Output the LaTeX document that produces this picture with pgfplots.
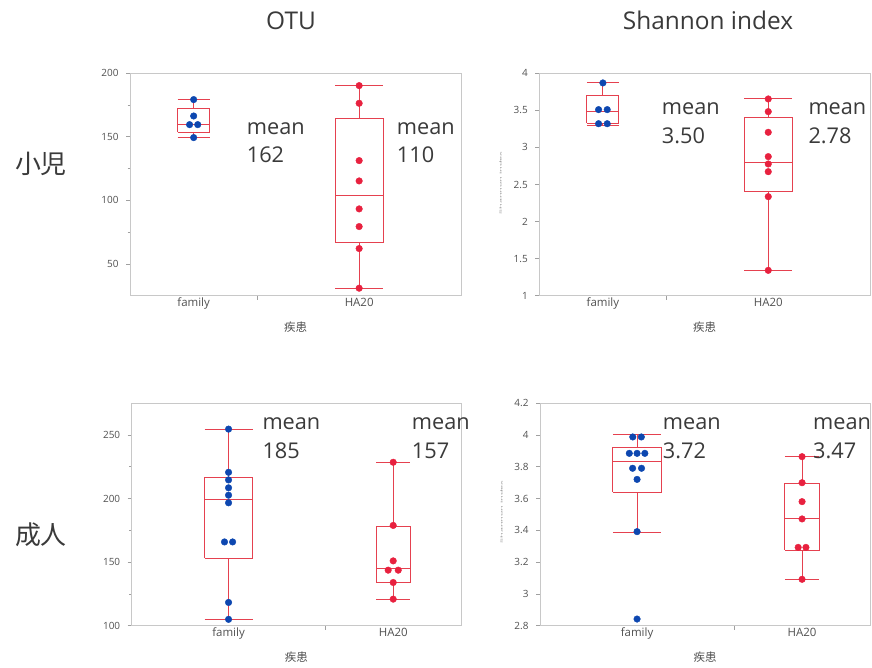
\documentclass[border=0pt]{standalone}
\usepackage{fontspec}
\setmainfont{Open Sans}
\newfontfamily\cjk{Noto Sans CJK JP}
\usepackage{pgfplots}
\pgfplotsset{compat=1.18}
\definecolor{boxred}{HTML}{E5414F}
\definecolor{ptred}{HTML}{E8213F}
\definecolor{ptblue}{HTML}{0D47B0}
\definecolor{framegray}{HTML}{C8C8C8}
\definecolor{tickgray}{HTML}{A0A0A0}
\definecolor{labelgray}{HTML}{505050}
\definecolor{textgray}{HTML}{3A3A3A}
\pgfplotsset{jmp/.style={
  scale only axis, anchor=south west, height=222.4bp,
  axis line style={draw=framegray, line width=1bp},
  tick align=outside, major tick length=4bp, minor tick length=2.5bp,
  every tick/.style={draw=tickgray, line width=0.7bp},
  ytick pos=left, xtick pos=bottom,
  tick label style={text=labelgray},
  yticklabel style={font=\fontsize{10}{11}\selectfont, xshift=-4bp},
  xticklabel style={font=\fontsize{11.5}{12}\selectfont, yshift=1.5bp},
  /pgf/number format/assume math mode=true,
  xticklabels={\mbox{}},
  extra x tick labels={family,HA20},
  extra x tick style={major tick length=0pt},
  xlabel={\cjk 疾患},
  x label style={at={(axis description cs:0.5,0)}, anchor=center, yshift=-31bp, font=\fontsize{11.5}{12}\selectfont, text=labelgray},
  clip=false,
},
bx/.style={draw=boxred, line width=1bp, solid, mark=none, line join=miter},
bpts/.style={only marks, mark=*, mark size=3.3bp, color=ptblue, mark options={draw=ptblue, fill=ptblue}},
rpts/.style={only marks, mark=*, mark size=3.3bp, color=ptred, mark options={draw=ptred, fill=ptred}},
}
% #1 position, #2 half width, #3 lower whisker, #4 Q1, #5 median, #6 Q3, #7 upper whisker
\newcommand\jbox[7]{%
\addplot[bx] coordinates {(#1-#2,#4) (#1+#2,#4) (#1+#2,#6) (#1-#2,#6) (#1-#2,#4)};
\addplot[bx] coordinates {(#1-#2,#5) (#1+#2,#5)};
\addplot[bx] coordinates {(#1,#6) (#1,#7)};
\addplot[bx] coordinates {(#1,#4) (#1,#3)};
\addplot[bx] coordinates {(#1-#2,#7) (#1+#2,#7)};
\addplot[bx] coordinates {(#1-#2,#3) (#1+#2,#3)};
}
\begin{document}
\begin{tikzpicture}
\path[use as bounding box, clip] (0,0) rectangle (872bp,668bp);
% ---------- Panel 1: OTU, children ----------
\begin{axis}[jmp, at={(130bp,372.3bp)}, width=331bp, xmin=0, xmax=13, ymin=25, ymax=200,
  ytick={50,100,150,200}, minor y tick num=1, xtick={5}, extra x ticks={2.5,9}]
\jbox{2.5}{0.63}{149.4}{153.6}{160.1}{172.2}{179.3}
\jbox{9}{0.945}{30.9}{66.8}{103.8}{164.6}{190.3}
\addplot[bpts] coordinates {(2.5,179.3) (2.5,166.4) (2.34,159.6) (2.66,159.6) (2.5,149.4)};
\addplot[rpts] coordinates {(9,190.3) (9,176.4) (9,131.3) (9,115.3) (9,93.3) (9,79.4) (9,62.1) (9,30.9)};
\end{axis}
% ---------- Panel 2: Shannon, children ----------
\begin{axis}[jmp, at={(539.3bp,372.3bp)}, width=330.7bp, xmin=0, xmax=13, ymin=1, ymax=4,
  ytick={1,1.5,2,2.5,3,3.5,4}, xtick={5}, extra x ticks={2.5,9}]
\jbox{2.5}{0.63}{3.29}{3.325}{3.483}{3.703}{3.87}
\jbox{9}{0.945}{1.342}{2.412}{2.79}{3.406}{3.654}
\addplot[bpts] coordinates {(2.5,3.87) (2.33,3.51) (2.67,3.51) (2.33,3.32) (2.67,3.32)};
\addplot[rpts] coordinates {(9,3.654) (9,3.483) (9,3.204) (9,2.876) (9,2.777) (9,2.673) (9,2.336) (9,1.342)};
\end{axis}
% ---------- Panel 3: OTU, adults ----------
\begin{axis}[jmp, at={(131.7bp,42.3bp)}, width=329.3bp, xmin=0, xmax=17, ymin=100, ymax=275,
  ytick={100,150,200,250}, minor y tick num=1, xtick={10}, extra x ticks={5,13.5}]
\jbox{5}{1.24}{105}{153.1}{199}{216.3}{254.7}
\jbox{13.5}{0.88}{120.9}{134.2}{145}{178.4}{228.6}
\addplot[bpts] coordinates {(5,254.7) (5,220.7) (5,214.7) (5,208.5) (5,202.7) (5,196.7) (4.79,165.9) (5.21,165.9) (5,118.3) (5,105)};
\addplot[rpts] coordinates {(13.5,228.6) (13.5,178.9) (13.5,151) (13.24,143.7) (13.76,143.7) (13.5,134) (13.5,120.9)};
\end{axis}
% ---------- Panel 4: Shannon, adults ----------
\begin{axis}[jmp, at={(540bp,42.3bp)}, width=330bp, xmin=0, xmax=17, ymin=2.8, ymax=4.2,
  ytick={2.8,3,3.2,3.4,3.6,3.8,4,4.2}, xtick={10}, extra x ticks={5,13.5}]
\jbox{5}{1.25}{3.388}{3.64}{3.833}{3.919}{4.005}
\jbox{13.5}{0.88}{3.092}{3.276}{3.474}{3.696}{3.864}
\addplot[bpts] coordinates {(4.78,3.988) (5.22,3.988) (4.6,3.885) (5,3.885) (5.4,3.885) (4.77,3.791) (5.23,3.791) (5,3.721) (5,3.392) (5,2.842)};
\addplot[rpts] coordinates {(13.5,3.864) (13.3,3.293) (13.7,3.293) (13.5,3.7) (13.5,3.581) (13.5,3.472) (13.5,3.092)};
\end{axis}
% ---------- titles and labels ----------
\begin{scope}[every node/.style={text=textgray, inner sep=0pt}]
\node[anchor=base] at (291bp,638bp) {\fontsize{24.5}{29}\selectfont OTU};
\node[anchor=base] at (708bp,638bp) {\fontsize{24.5}{29}\selectfont Shannon index};
\node[anchor=center] at (41bp,504bp) {\cjk\fontsize{26}{30}\selectfont 小児};
\node[anchor=center] at (41bp,133bp) {\cjk\fontsize{26}{30}\selectfont 成人};
\node[anchor=center, rotate=90, text=gray] at (500.7bp,485bp) {\scalebox{1}[0.3]{\fontsize{9}{10}\selectfont Shannon index}};
\node[anchor=center, rotate=90, text=gray] at (501.7bp,156bp) {\scalebox{1}[0.3]{\fontsize{9}{10}\selectfont Shannon index}};
\end{scope}
\begin{scope}[every node/.style={text=textgray, inner sep=0pt, anchor=base west, font=\fontsize{21.8}{26}\selectfont}]
\node at (246.7bp,533bp) {mean}; \node at (246.7bp,505.3bp) {162};
\node at (396.7bp,533bp) {mean}; \node at (396.7bp,505.3bp) {110};
\node at (661.7bp,553bp) {mean}; \node at (661.7bp,524bp) {3.50};
\node at (808.3bp,553bp) {mean}; \node at (808.3bp,524bp) {2.78};
\node at (262.3bp,238bp) {mean}; \node at (262.3bp,209bp) {185};
\node at (411.7bp,238bp) {mean}; \node at (411.7bp,209bp) {157};
\node at (662.7bp,238bp) {mean}; \node at (662.7bp,209bp) {3.72};
\node at (813bp,238bp) {mean}; \node at (813bp,209bp) {3.47};
\end{scope}
\end{tikzpicture}
\end{document}
